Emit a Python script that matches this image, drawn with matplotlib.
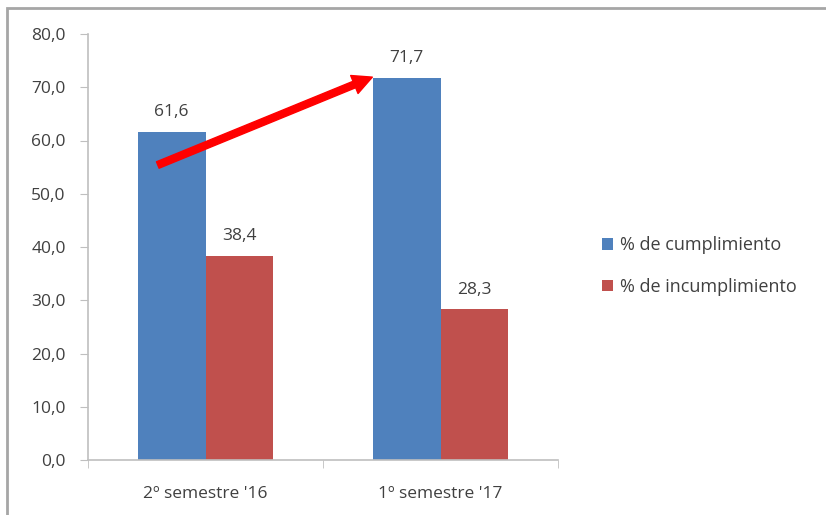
import matplotlib.pyplot as plt
import numpy as np
from matplotlib.patches import Rectangle, FancyArrowPatch

# Data
categories = ["2º semestre '16", "1º semestre '17"]
cumplimiento = [61.6, 71.7]
incumplimiento = [38.4, 28.3]
series_names = ['% de cumplimiento', '% de incumplimiento']

BLUE = '#4f81bd'
RED = '#c0504d'
GRAY = '#bfbfbf'
TEXT = '#404040'

plt.rcParams['font.family'] = ['Open Sans', 'DejaVu Sans']

fig = plt.figure(figsize=(8.26, 5.15), dpi=100)
ax = fig.add_axes([88 / 826, 55 / 515, (558 - 88) / 826, (460 - 34) / 515])

x = np.arange(len(categories))
w = 0.288
b1 = ax.bar(x - w / 2, cumplimiento, w, color=BLUE, label=series_names[0])
b2 = ax.bar(x + w / 2, incumplimiento, w, color=RED, label=series_names[1])

for bars, vals in [(b1, cumplimiento), (b2, incumplimiento)]:
    for bar, v in zip(bars, vals):
        ax.text(bar.get_x() + bar.get_width() / 2, v + 2.2, f"{v:.1f}".replace('.', ','),
                ha='center', va='bottom', fontsize=12.5, color=TEXT)

ax.set_xlim(-0.5, 1.5)
ax.set_ylim(0, 80)
ax.set_yticks(np.arange(0, 81, 10))
ax.set_yticklabels([f"{t:.1f}".replace('.', ',') for t in np.arange(0, 81, 10)])
ax.set_xticks(x)
ax.set_xticklabels(categories)
ax.set_xticks([-0.5, 0.5, 1.5], minor=True)

for s in ['top', 'right']:
    ax.spines[s].set_visible(False)
for s in ['left', 'bottom']:
    ax.spines[s].set_color(GRAY)
    ax.spines[s].set_linewidth(1.2)
ax.tick_params(axis='y', direction='out', length=6, color=GRAY, labelsize=12.5,
               labelcolor=TEXT, pad=10)
ax.tick_params(axis='x', which='major', length=0, labelsize=12.5, labelcolor=TEXT, pad=19)
ax.tick_params(axis='x', which='minor', direction='out', length=6, color=GRAY)

# red trend arrow
arr = FancyArrowPatch((-0.203, 55.4), (0.71, 71.9), arrowstyle='simple,head_length=14,head_width=14,tail_width=5',
                      color='#ff0000', mutation_scale=1, zorder=5, shrinkA=0, shrinkB=0)
ax.add_patch(arr)

fig.legend(handles=[b1, b2], labels=series_names, loc='upper left',
           bbox_to_anchor=(586 / 826, 1 - 220 / 515), frameon=False, fontsize=13,
           labelcolor=TEXT, handlelength=0.6, handleheight=0.6, handletextpad=0.4,
           labelspacing=1.3)

# outer border
fig.patches.append(Rectangle((7 / 826, -0.05), 1.1, 1 - 8 / 515 + 0.05, transform=fig.transFigure,
                             fill=False, edgecolor='#a6a6a6', linewidth=2))

fig.savefig('out.png', dpi=100)
